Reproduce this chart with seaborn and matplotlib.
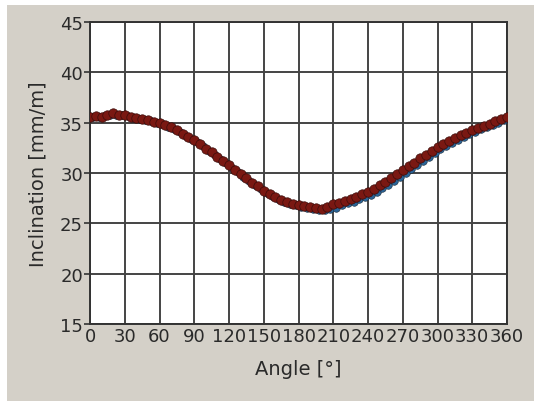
import numpy as np
import pandas as pd
import matplotlib
matplotlib.use("Agg")
import matplotlib.pyplot as plt
import seaborn as sns
from matplotlib.patches import Rectangle

# ---- data ----
angle_red = [0, 5, 10, 15, 20, 25, 30, 35, 40, 45, 50, 55, 60, 65, 70, 75, 80, 85,
             90, 95, 100, 105, 110, 115, 120, 125, 130, 135, 140, 145, 150, 155, 160,
             165, 170, 175, 180, 185, 190, 195, 200, 205, 210, 215, 220, 225, 230, 235,
             240, 245, 250, 255, 260, 265, 270, 275, 280, 285, 290, 295, 300, 305, 310,
             315, 320, 325, 330, 335, 340, 345, 350, 355, 360]
incl_red = [35.6, 35.7, 35.6, 35.8, 36.0, 35.8, 35.8, 35.6, 35.5, 35.4, 35.3, 35.1, 35.0,
            34.8, 34.6, 34.3, 33.9, 33.6, 33.3, 32.9, 32.4, 32.1, 31.6, 31.2, 30.8, 30.3,
            29.9, 29.5, 29.0, 28.7, 28.2, 27.9, 27.6, 27.3, 27.1, 26.9, 26.8, 26.7, 26.6,
            26.5, 26.4, 26.6, 26.9, 27.0, 27.2, 27.4, 27.6, 27.9, 28.1, 28.4, 28.8, 29.1,
            29.5, 29.9, 30.3, 30.7, 31.0, 31.5, 31.8, 32.2, 32.6, 32.9, 33.2, 33.5, 33.8,
            34.0, 34.3, 34.5, 34.7, 34.9, 35.2, 35.4, 35.6]

angle_blue = [2.5, 7.5, 12.5, 17.5, 22.5, 27.5, 32.5, 37.5, 42.5, 47.5, 52.5, 57.5, 62.5,
              67.5, 72.5, 77.5, 82.5, 87.5, 92.5, 97.5, 102.5, 107.5, 112.5, 117.5, 122.5,
              127.5, 132.5, 137.5, 142.5, 147.5, 152.5, 157.5, 162.5, 167.5, 172.5, 177.5,
              182.5, 187.5, 192.5, 197.5, 202.5, 207.5, 212.5, 217.5, 222.5, 227.5, 232.5,
              237.5, 242.5, 247.5, 252.5, 257.5, 262.5, 267.5, 272.5, 277.5, 282.5, 287.5,
              292.5, 297.5, 302.5, 307.5, 312.5, 317.5, 322.5, 327.5, 332.5, 337.5, 342.5,
              347.5, 352.5, 357.5]
incl_blue = [35.6, 35.6, 35.7, 35.8, 35.8, 35.8, 35.7, 35.5, 35.4, 35.3, 35.2, 35.0, 34.9,
             34.6, 34.4, 34.1, 33.7, 33.4, 33.1, 32.7, 32.2, 31.8, 31.4, 31.0, 30.5, 30.1,
             29.6, 29.2, 28.8, 28.4, 28.0, 27.7, 27.4, 27.1, 26.9, 26.8, 26.6, 26.5, 26.4,
             26.3, 26.3, 26.4, 26.5, 26.8, 27.0, 27.1, 27.4, 27.6, 27.8, 28.1, 28.5, 28.8,
             29.2, 29.6, 30.0, 30.4, 30.8, 31.2, 31.6, 32.0, 32.4, 32.7, 33.0, 33.3, 33.6,
             33.9, 34.1, 34.4, 34.6, 34.8, 35.0, 35.3]

x_ticks = [0, 30, 60, 90, 120, 150, 180, 210, 240, 270, 300, 330, 360]
y_ticks = [15, 20, 25, 30, 35, 40, 45]

df_red = pd.DataFrame({"Angle": angle_red, "Inclination": incl_red})
df_blue = pd.DataFrame({"Angle": angle_blue, "Inclination": incl_blue})

sns.set_theme(style="white")
plt.rcParams['font.family'] = ['DejaVu Sans']

fig = plt.figure(figsize=(5.34, 4.02), dpi=100)
bg = "#d4d0c8"
fig.patch.set_facecolor(bg)
# white strip on top and left edges
fig.patches.append(Rectangle((0, 0), 7 / 534, 1, transform=fig.transFigure,
                             facecolor="white", edgecolor="none", zorder=0))
fig.patches.append(Rectangle((0, 1 - 6 / 402), 1, 6 / 402, transform=fig.transFigure,
                             facecolor="white", edgecolor="none", zorder=0))

ax = fig.add_axes([90 / 534, 1 - 325 / 402, (507 - 90) / 534, (325 - 23) / 402])
ax.set_facecolor("white")

sns.scatterplot(data=df_blue, x="Angle", y="Inclination", ax=ax, color="#2a6496",
                s=30, edgecolor="#1a2a3a", linewidth=0.4, zorder=3)
sns.scatterplot(data=df_red, x="Angle", y="Inclination", ax=ax, color="#7a1812",
                s=46, edgecolor="#3a0c0a", linewidth=0.5, zorder=4)

ax.set_xlim(0, 360)
ax.set_ylim(15, 45)
ax.set_xticks(x_ticks)
ax.set_yticks(y_ticks)
ax.set_xticklabels([str(v) for v in x_ticks])
ax.set_yticklabels([str(v) for v in y_ticks])
ax.grid(True, color="#444444", linewidth=1.4)
ax.set_axisbelow(True)
for sp in ax.spines.values():
    sp.set_color("#333333")
    sp.set_linewidth(1.4)

ax.tick_params(axis="y", which="both", left=True, length=4, width=1.2, color="#333333",
               pad=1, labelsize=13, labelcolor="#2a2a2a")
ax.tick_params(axis="x", which="both", bottom=False, length=0, pad=2, labelsize=13,
               labelcolor="#2a2a2a")

ax.set_xlabel("Angle [°]", fontsize=14, color="#2a2a2a", labelpad=10)
ax.set_ylabel("Inclination [mm/m]", fontsize=14, color="#2a2a2a", labelpad=9)

fig.savefig("out.png", dpi=100, facecolor=fig.get_facecolor())
